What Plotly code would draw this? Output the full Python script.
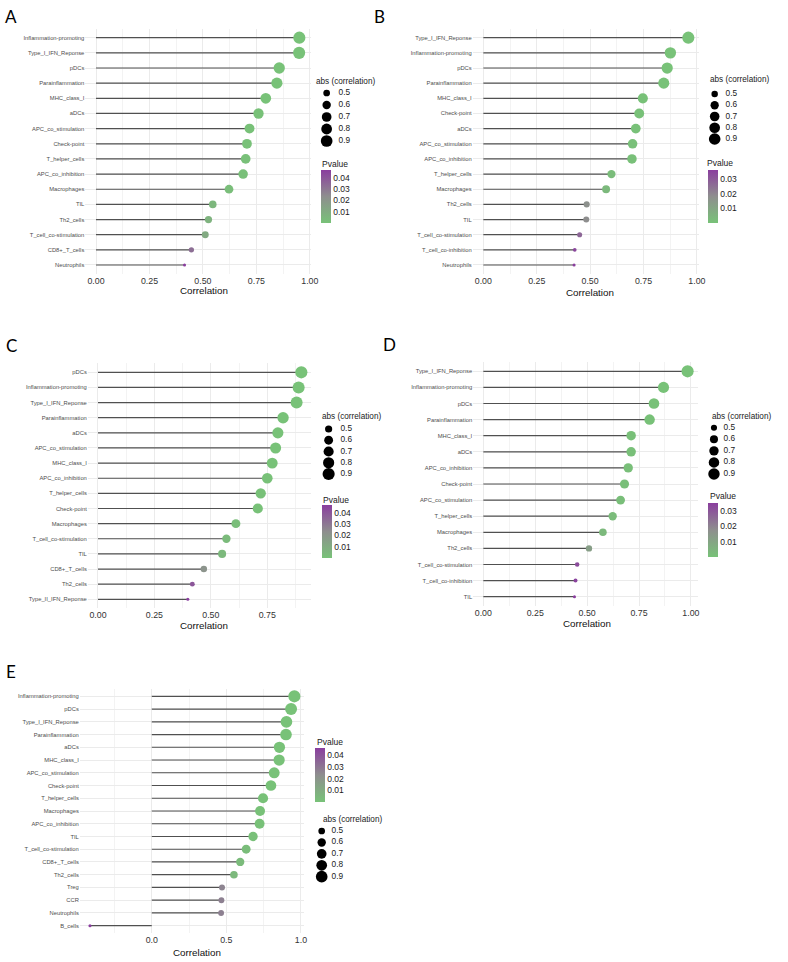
import numpy as np
import plotly.graph_objects as go

W, H = 788, 962

# ---------------- data ----------------
A_cells = ["Inflammation-promoting", "Type_I_IFN_Reponse", "pDCs", "Parainflammation", "MHC_class_I",
           "aDCs", "APC_co_stimulation", "Check-point", "T_helper_cells", "APC_co_inhibition",
           "Macrophages", "TIL", "Th2_cells", "T_cell_co-stimulation", "CD8+_T_cells", "Neutrophils"]
A_corr = [0.951, 0.950, 0.857, 0.846, 0.794, 0.760, 0.718, 0.706, 0.700, 0.688, 0.622, 0.546, 0.526, 0.511, 0.446, 0.414]
A_pval = [0.00001, 0.00001, 0.0001, 0.0001, 0.0002, 0.0003, 0.0005, 0.0006, 0.0007, 0.0008, 0.002, 0.005, 0.007, 0.011, 0.033, 0.047]

B_cells = ["Type_I_IFN_Reponse", "Inflammation-promoting", "pDCs", "Parainflammation", "MHC_class_I",
           "Check-point", "aDCs", "APC_co_stimulation", "APC_co_inhibition", "T_helper_cells",
           "Macrophages", "Th2_cells", "TIL", "T_cell_co-stimulation", "T_cell_co-inhibition", "Neutrophils"]
B_corr = [0.960, 0.876, 0.861, 0.845, 0.747, 0.730, 0.714, 0.699, 0.696, 0.600, 0.575, 0.484, 0.482, 0.451, 0.428, 0.425]
B_pval = [0.00001, 0.0001, 0.0001, 0.0001, 0.0003, 0.0004, 0.0005, 0.0006, 0.0006, 0.002, 0.003, 0.017, 0.018, 0.027, 0.034, 0.036]

C_cells = ["pDCs", "Inflammation-promoting", "Type_I_IFN_Reponse", "Parainflammation", "aDCs",
           "APC_co_stimulation", "MHC_class_I", "APC_co_inhibition", "T_helper_cells", "Check-point",
           "Macrophages", "T_cell_co-stimulation", "TIL", "CD8+_T_cells", "Th2_cells", "Type_II_IFN_Reponse"]
C_corr = [0.901, 0.889, 0.880, 0.820, 0.797, 0.787, 0.772, 0.750, 0.721, 0.708, 0.611, 0.569, 0.550, 0.469, 0.418, 0.398]
C_pval = [0.00001, 0.00001, 0.00002, 0.0001, 0.0001, 0.0002, 0.0002, 0.0003, 0.0004, 0.0005, 0.002, 0.003, 0.004, 0.021, 0.040, 0.047]

D_cells = ["Type_I_IFN_Reponse", "Inflammation-promoting", "pDCs", "Parainflammation", "MHC_class_I",
           "aDCs", "APC_co_inhibition", "Check-point", "APC_co_stimulation", "T_helper_cells",
           "Macrophages", "Th2_cells", "T_cell_co-stimulation", "T_cell_co-inhibition", "TIL"]
D_corr = [0.984, 0.868, 0.822, 0.801, 0.712, 0.712, 0.698, 0.680, 0.661, 0.623, 0.576, 0.509, 0.452, 0.444, 0.439]
D_pval = [0.00001, 0.0001, 0.0002, 0.0003, 0.0008, 0.0008, 0.0009, 0.001, 0.0012, 0.002, 0.003, 0.012, 0.032, 0.034, 0.035]

E_cells = ["Inflammation-promoting", "pDCs", "Type_I_IFN_Reponse", "Parainflammation", "aDCs",
           "MHC_class_I", "APC_co_stimulation", "Check-point", "T_helper_cells", "Macrophages",
           "APC_co_inhibition", "TIL", "T_cell_co-stimulation", "CD8+_T_cells", "Th2_cells",
           "Treg", "CCR", "Neutrophils", "B_cells"]
E_corr = [0.956, 0.934, 0.903, 0.900, 0.856, 0.854, 0.821, 0.799, 0.746, 0.726, 0.723, 0.679, 0.633,
          0.593, 0.551, 0.471, 0.467, 0.465, -0.414]
E_pval = [0.00001, 0.00001, 0.00002, 0.00002, 0.0001, 0.0001, 0.0001, 0.0002, 0.0004, 0.0005, 0.0005,
          0.001, 0.002, 0.003, 0.004, 0.026, 0.027, 0.027, 0.046]

size_legend_values = [0.5, 0.6, 0.7, 0.8, 0.9]

# ---------------- styling / layout (pixels) ----------------
GREEN, GREY, PURPLE = "rgb(120,194,120)", "rgb(142,142,142)", "rgb(138,62,158)"
COLORSCALE = [[0, GREEN], [0.5, GREY], [1, PURPLE]]
FONT = "Liberation Sans, Arial, sans-serif"

PANELS = [
    dict(letter="A", cells=A_cells, corr=A_corr, pval=A_pval, zero=97, unit=216, xr=[-0.05, 1.005],
         r0=37.7, r1=265, dtick=0.25, fmt=".2f", letter_xy=(11.5, 16), title_xy=(206, 290.5),
         cb=dict(x0=324, y0=170, y1=223, tx=323, ty=164, ticks=[0.01, 0.02, 0.03, 0.04]),
         sl=dict(cx=330, y0=93, y1=141, lx=342, tx=317, ty=82)),
    dict(letter="B", cells=B_cells, corr=B_corr, pval=B_pval, zero=488.3, unit=215.7, xr=[-0.05, 1.01],
         r0=37.7, r1=265, dtick=0.25, fmt=".2f", letter_xy=(383, 16), title_xy=(596, 292),
         cb=dict(x0=715, y0=170, y1=223, tx=712, ty=163, ticks=[0.01, 0.02, 0.03]),
         sl=dict(cx=722, y0=94, y1=139, lx=733, tx=715, ty=79)),
    dict(letter="C", cells=C_cells, corr=C_corr, pval=C_pval, zero=99, unit=228, xr=[-0.045, 0.946],
         r0=372.3, r1=599.3, dtick=0.25, fmt=".2f", letter_xy=(11.5, 345), title_xy=(206, 625),
         cb=dict(x0=325, y0=505, y1=558, tx=324, ty=500, ticks=[0.01, 0.02, 0.03, 0.04]),
         sl=dict(cx=332, y0=429, y1=474, lx=344, tx=323, ty=416)),
    dict(letter="D", cells=D_cells, corr=D_corr, pval=D_pval, zero=488.3, unit=209.7, xr=[-0.049, 1.033],
         r0=371.3, r1=596.7, dtick=0.25, fmt=".2f", letter_xy=(393, 344), title_xy=(593, 623),
         cb=dict(x0=715, y0=503, y1=557, tx=715, ty=496, ticks=[0.01, 0.02, 0.03]),
         sl=dict(cx=721.3, y0=427.7, y1=474, lx=731, tx=717, ty=416)),
    dict(letter="E", cells=E_cells, corr=E_corr, pval=E_pval, zero=153.3, unit=150.7, xr=[-0.482, 1.021],
         r0=696.3, r1=925.7, dtick=0.5, fmt=".1f", letter_xy=(11.5, 671), title_xy=(199, 952),
         cb=dict(x0=318, y0=748, y1=802, tx=318, ty=742, ticks=[0.01, 0.02, 0.03, 0.04]),
         sl=dict(cx=325, y0=831, y1=876.7, lx=335, tx=324, ty=819)),
]


def fx(px):
    return px / W


def fy(py):
    return 1 - py / H


def dot_size(v, vmin, vmax):
    t = (abs(v) - vmin) / (vmax - vmin)
    t = min(max(t, 0.0), 1.0)
    return 3.1 + 9.05 * np.sqrt(t)


fig = go.Figure()
layout = dict(width=W, height=H, margin=dict(l=0, r=0, t=0, b=0),
              paper_bgcolor="white", plot_bgcolor="white", showlegend=False,
              font=dict(family=FONT, color="#222"))
annotations = []

for i, p in enumerate(PANELS, start=1):
    cells, corr, pval = p["cells"], p["corr"], p["pval"]
    n = len(cells)
    absv = [abs(v) for v in corr]
    vmin, vmax = min(absv), max(absv)
    xa, ya = f"x{i}", f"y{i}"
    xkey, ykey = f"xaxis{i}", f"yaxis{i}"

    # segments from 0 to value
    sx, sy = [], []
    for c, v in zip(cells, corr):
        sx += [0, v, None]
        sy += [c, c, None]
    fig.add_trace(go.Scatter(x=sx, y=sy, mode="lines", xaxis=xa, yaxis=ya,
                             line=dict(color="#505050", width=1.2), hoverinfo="skip"))
    # points
    fig.add_trace(go.Scatter(x=corr, y=cells, mode="markers", xaxis=xa, yaxis=ya,
                             marker=dict(size=[dot_size(v, vmin, vmax) for v in corr],
                                         color=pval, coloraxis=f"coloraxis{i}", line=dict(width=0),
                                         opacity=1),
                             cliponaxis=False))

    # axes
    x0 = p["zero"] + p["xr"][0] * p["unit"]
    x1 = p["zero"] + p["xr"][1] * p["unit"]
    s = (p["r1"] - p["r0"]) / (n - 1)
    top = p["r0"] - 0.6 * s
    bot = p["r1"] + 0.6 * s
    layout[xkey] = dict(domain=[fx(x0), fx(x1)], range=p["xr"], anchor=ya, dtick=p["dtick"], tick0=0,
                        tickformat=p["fmt"], showgrid=True, gridcolor="#EBEBEB", gridwidth=0.8,
                        zeroline=False, showline=False, ticks="",
                        tickfont=dict(size=8.8, color="#333333", family=FONT),
                        minor=dict(dtick=p["dtick"] / 2, tick0=0, showgrid=True,
                                   gridcolor="#F3F3F3", gridwidth=0.5))
    layout[ykey] = dict(domain=[fy(bot), fy(top)], anchor=xa, type="category",
                        categoryorder="array", categoryarray=cells,
                        range=[n - 1 + 0.6, -0.6], tickmode="array", tickvals=cells,
                        showgrid=True, gridcolor="#EBEBEB", gridwidth=0.8, zeroline=False,
                        showline=False, ticks="", tickfont=dict(size=5.8, color="#4D4D4D", family=FONT))

    # colour bar
    cb = p["cb"]
    layout[f"coloraxis{i}"] = dict(
        colorscale=COLORSCALE, cmin=min(pval), cmax=max(pval),
        colorbar=dict(x=fx(cb["x0"]), xanchor="left", y=fy(cb["y1"]), yanchor="bottom",
                      len=cb["y1"] - cb["y0"], lenmode="pixels", thickness=10, xpad=0, ypad=0,
                      outlinewidth=0, ticks="", tickvals=cb["ticks"], tickformat=".2f",
                      tickfont=dict(size=8.5, color="#1a1a1a", family=FONT)))
    annotations.append(dict(text="Pvalue", x=fx(cb["tx"]), y=fy(cb["ty"]), xref="paper", yref="paper",
                            xanchor="left", yanchor="middle", showarrow=False,
                            font=dict(size=8.5, color="#1a1a1a", family=FONT)))

    # size legend in its own small axes
    sl = p["sl"]
    j = i + 5
    ss = (sl["y1"] - sl["y0"]) / 4
    layout[f"xaxis{j}"] = dict(domain=[fx(sl["cx"] - 10), fx(sl["cx"] + 30)], range=[-10, 30],
                               visible=False, anchor=f"y{j}", fixedrange=True)
    layout[f"yaxis{j}"] = dict(domain=[fy(sl["y1"] + ss / 2), fy(sl["y0"] - ss / 2)],
                               range=[0.95, 0.45], visible=False, anchor=f"x{j}", fixedrange=True)
    fig.add_trace(go.Scatter(x=[0] * len(size_legend_values), y=size_legend_values, mode="markers",
                             xaxis=f"x{j}", yaxis=f"y{j}", cliponaxis=False, hoverinfo="skip",
                             marker=dict(color="#000000", opacity=1, line=dict(width=0),
                                         size=[dot_size(v, vmin, vmax) for v in size_legend_values])))
    fig.add_trace(go.Scatter(x=[sl["lx"] - sl["cx"]] * len(size_legend_values), y=size_legend_values,
                             mode="text", text=[f"{v:.1f}" for v in size_legend_values],
                             textposition="middle right", xaxis=f"x{j}", yaxis=f"y{j}",
                             cliponaxis=False, hoverinfo="skip",
                             textfont=dict(size=8.3, color="#1a1a1a", family=FONT)))
    annotations.append(dict(text="abs (correlation)", x=fx(sl["tx"]), y=fy(sl["ty"]), xref="paper",
                            yref="paper", xanchor="left", yanchor="middle", showarrow=False,
                            font=dict(size=8.2, color="#1a1a1a", family=FONT)))

    # axis title
    tx, ty = p["title_xy"]
    annotations.append(dict(text="Correlation", x=fx(tx), y=fy(ty), xref="paper", yref="paper",
                            xanchor="center", yanchor="middle", showarrow=False,
                            font=dict(size=9.8, color="#111111", family=FONT)))
    # panel letter
    lx, ly = p["letter_xy"]
    annotations.append(dict(text=p["letter"], x=fx(lx), y=fy(ly), xref="paper", yref="paper",
                            xanchor="center", yanchor="middle", showarrow=False,
                            font=dict(size=17, color="black", family="Lato, sans-serif")))

layout["annotations"] = annotations
fig.update_layout(**layout)
fig.write_html("out.html", config={"displayModeBar": False},
               post_script="document.body.style.margin='0px';document.body.style.overflow='hidden';")
